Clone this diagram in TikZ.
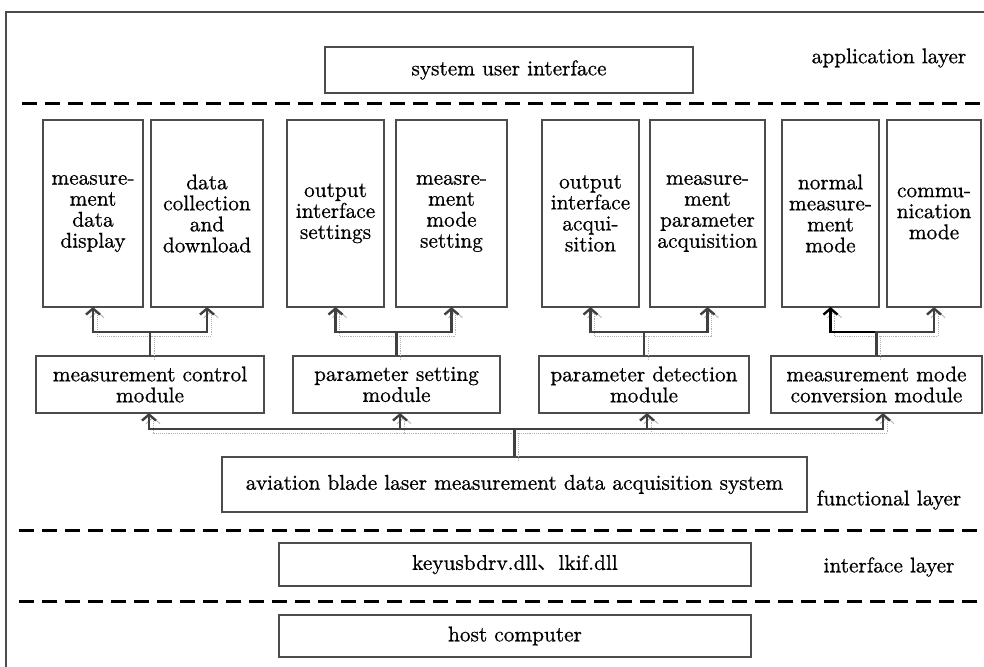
\documentclass[tikz,border=0pt]{standalone}
\usepackage{fontspec}
\setmainfont{lmroman10-regular.otf}[FakeBold=0.7]
\newfontfamily\cjkfont{Noto Sans CJK SC}
\usetikzlibrary{positioning,arrows.meta}

\begin{document}
\begin{tikzpicture}[x=1pt, y=1pt, font=\fontsize{21.3}{21}\selectfont,
  box/.style={draw=black!70, line width=2.4pt, align=center, inner sep=0pt, outer sep=0pt, minimum width=#1},
  tall/.style={box=#1, minimum height=187pt},
  mod/.style={box=#1, minimum height=57pt},
  arr/.style={draw=black!75, line width=2.4pt, -{Straight Barb[length=6pt,width=14pt]}},
  ghost/.style={draw=black!30, line width=0.9pt, densely dotted, -{Straight Barb[length=6pt,width=14pt]}},
  layerline/.style={draw=black, line width=3pt, dash pattern=on 15pt off 8pt}]
\useasboundingbox (0,0) rectangle (984,666);
% outer frame (only left and top edges fall inside the page)
\draw[black!70, line width=2pt] (6,-5) -- (6,654) -- (990,654);

% application layer
\node[box=368pt, minimum height=46pt] (ui) at (509,596) {system user interface};
\node (lapp) at (889,608) {application layer};
\draw[layerline] (22,562) -- (984,562);

% function boxes
\node[tall=100pt] (disp) at (93,452.5) {measure-\\ment\\data\\display};
\node[tall=112pt, right=8pt of disp] (down) {data\\collection\\and\\download};
\node[tall=97pt, right=24pt of down] (outset) {output\\interface\\settings};
\node[tall=111pt, right=12pt of outset] (modeset) {measre-\\ment\\mode\\setting};
\node[tall=97pt, right=35pt of modeset] (outacq) {output\\interface\\acqui-\\sition};
\node[tall=115pt, right=11pt of outacq] (paracq) {measure-\\ment\\parameter\\acquisition};
\node[tall=97pt, right=17pt of paracq] (normal) {normal\\measure-\\ment\\mode};
\node[tall=94pt, right=8pt of normal] (comm) {commu-\\nication\\mode};

% modules
\node[mod=228pt] (ctrl) at (150,281.5) {measurement control\\module};
\node[mod=207pt] (pset) at (396.5,281.5) {parameter setting\\module};
\node[mod=210pt] (pdet) at (644,281.5) {parameter detection\\module};
\node[mod=211pt] (conv) at (876.5,281.5) {measurement mode\\conversion module};

% functional layer
\node[box=585pt, minimum height=55pt] (sys) at (514.5,181.5) {aviation blade laser measurement data acquisition system};
\node (lfun) at (889,166) {functional layer};
\draw[layerline] (19,135) -- (984,135);

% interface layer
\node[box=472pt, minimum height=43pt] (dll) at (515,101.5) {keyusbdrv.dll{\cjkfont 、}lkif.dll};
\node (lint) at (889,99) {interface layer};
\draw[layerline] (19,64) -- (984,64);

\node[box=472pt, minimum height=42pt] (host) at (515,30) {host computer};

% dotted grey copies of the links
\begin{scope}[transform canvas={xshift=4pt, yshift=-4pt}]
\draw[ghost] (ctrl.north) -- ++(0,24) -| (disp.south);
\draw[ghost] (ctrl.north) -- ++(0,24) -| (down.south);
\draw[ghost] (pset.north) -- ++(0,24) -| (outset.south);
\draw[ghost] (pset.north) -- ++(0,24) -| (modeset.south);
\draw[ghost] (pdet.north) -- ++(0,24) -| (outacq.south);
\draw[ghost] (pdet.north) -- ++(0,24) -| (paracq.south);
\draw[ghost] (conv.north) -- ++(0,24) -| (normal.south);
\draw[ghost] (conv.north) -- ++(0,24) -| (comm.south);
\draw[ghost] (sys.north) -- ++(0,28) -| ([xshift=-1pt]ctrl.south);
\draw[ghost] (sys.north) -- ++(0,28) -| ([xshift=3.5pt]pset.south);
\draw[ghost] (sys.north) -- ++(0,28) -| ([xshift=3pt]pdet.south);
\draw[ghost] (sys.north) -- ++(0,28) -| ([xshift=6.5pt]conv.south);
\end{scope}

% links
\draw[arr] (ctrl.north) -- ++(0,24) -| (disp.south);
\draw[arr] (ctrl.north) -- ++(0,24) -| (down.south);
\draw[arr] (pset.north) -- ++(0,24) -| (outset.south);
\draw[arr] (pset.north) -- ++(0,24) -| (modeset.south);
\draw[arr] (pdet.north) -- ++(0,24) -| (outacq.south);
\draw[arr] (pdet.north) -- ++(0,24) -| (paracq.south);
\draw[arr, draw=black] (conv.north) -- ++(0,24) -| (normal.south);
\draw[arr] (conv.north) -- ++(0,24) -| (comm.south);
\draw[arr] (sys.north) -- ++(0,28) -| ([xshift=-1pt]ctrl.south);
\draw[arr] (sys.north) -- ++(0,28) -| ([xshift=3.5pt]pset.south);
\draw[arr] (sys.north) -- ++(0,28) -| ([xshift=3pt]pdet.south);
\draw[arr] (sys.north) -- ++(0,28) -| ([xshift=6.5pt]conv.south);
\end{tikzpicture}
\end{document}
